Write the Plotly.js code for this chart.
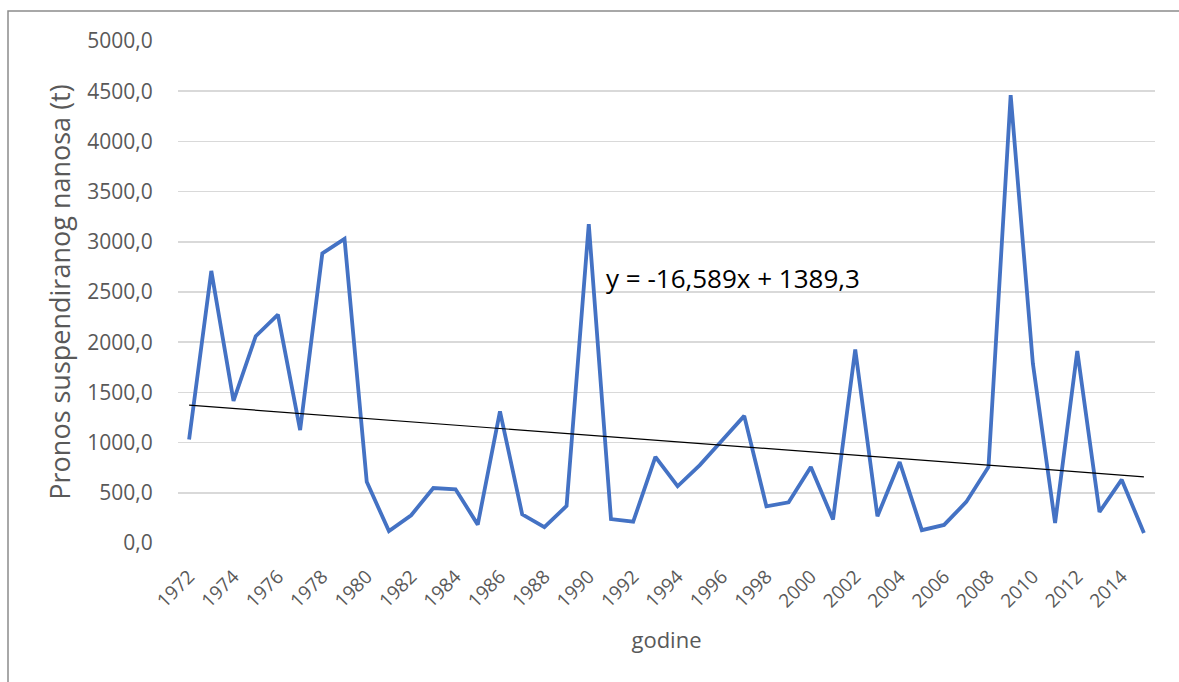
<!DOCTYPE html>
<html>
<head>
<meta charset="utf-8">
<script src="https://cdn.plot.ly/plotly-3.0.1.min.js"></script>
<style>
  html, body { margin: 0; padding: 0; background: #ffffff; }
  #chart { width: 1179px; height: 682px; }
</style>
</head>
<body>
<div id="chart"></div>
<script>
// ---- data ----
const years = [1972, 1973, 1974, 1975, 1976, 1977, 1978, 1979, 1980, 1981,
               1982, 1983, 1984, 1985, 1986, 1987, 1988, 1989, 1990, 1991,
               1992, 1993, 1994, 1995, 1996, 1997, 1998, 1999, 2000, 2001,
               2002, 2003, 2004, 2005, 2006, 2007, 2008, 2009, 2010, 2011,
               2012, 2013, 2014, 2015];
const sediment = [1030, 2710, 1415, 2060, 2275, 1125, 2885, 3030, 610, 118,
                  276, 548, 535, 183, 1312, 286, 159, 369, 3176, 238,
                  212, 857, 565, 776, 1020, 1266, 365, 405, 757, 235,
                  1927, 266, 807, 128, 180, 409, 757, 4461, 1787, 199,
                  1913, 309, 631, 100];
const tickYears = [1972, 1974, 1976, 1978, 1980, 1982, 1984, 1986, 1988, 1990,
                   1992, 1994, 1996, 1998, 2000, 2002, 2004, 2006, 2008, 2010,
                   2012, 2014];
const yTicks = [0, 500, 1000, 1500, 2000, 2500, 3000, 3500, 4000, 4500, 5000];
// linear trendline as printed on the chart (x = 1, 2, ... n)
const trendSlope = -16.589;
const trendIntercept = 1389.3;
const trendLabel = "y = -16,589x + 1389,3";
const xTitle = "godine";
const yTitle = "Pronos suspendiranog nanosa (t)";

const trendValues = years.map((_, i) => trendSlope * (i + 1) + trendIntercept);

const FONT = "'Open Sans', 'Noto Sans', sans-serif";
const GREY = "#595959";

const traces = [
  {
    x: years, y: sediment, type: "scatter", mode: "lines",
    line: { color: "#4472C4", width: 3.8 },
    hoverinfo: "x+y", showlegend: false
  },
  {
    x: years, y: trendValues, type: "scatter", mode: "lines",
    line: { color: "#000000", width: 1.2 },
    hoverinfo: "skip", showlegend: false
  }
];

const layout = {
  width: 1179, height: 682,
  margin: { l: 178, r: 24, t: 41, b: 139, pad: 0 },
  paper_bgcolor: "#ffffff", plot_bgcolor: "#ffffff",
  separators: ",.",
  font: { family: FONT, color: GREY },
  showlegend: false,
  xaxis: {
    type: "linear",
    range: [1971.5, 2015.5],
    tickmode: "array", tickvals: tickYears, ticktext: tickYears.map(String),
    tickangle: -45,
    tickfont: { family: FONT, size: 19, color: GREY },
    showgrid: false, zeroline: false, showline: false,
    ticks: "outside", ticklen: 14, tickcolor: "rgba(0,0,0,0)",
    title: { text: xTitle, font: { family: FONT, size: 22, color: GREY }, standoff: 20 },
    fixedrange: true
  },
  yaxis: {
    range: [0, 5000],
    tickmode: "array", tickvals: yTicks,
    tickformat: ".1f",
    tickfont: { family: FONT, size: 21, color: GREY },
    showgrid: true, gridcolor: "#d9d9d9", gridwidth: 1.5,
    zeroline: false, showline: false,
    ticks: "outside", ticklen: 20, tickcolor: "rgba(0,0,0,0)",
    title: { text: yTitle, font: { family: FONT, size: 27, color: GREY }, standoff: 8 },
    fixedrange: true
  },
  annotations: [
    {
      xref: "x", yref: "y", x: 1990.7, y: 2640,
      xanchor: "left", yanchor: "middle", showarrow: false,
      text: trendLabel,
      font: { family: FONT, size: 26, color: "#000000" }
    }
  ],
  shapes: [
    {
      type: "path", xref: "paper", yref: "paper", layer: "above",
      path: "M -0.174 -0.3 L -0.174 1.0598 L 1.1 1.0598",
      line: { color: "#8c8c8c", width: 1.5 }
    }
  ]
};

Plotly.newPlot("chart", traces, layout, { staticPlot: true, displayModeBar: false });
</script>
</body>
</html>
